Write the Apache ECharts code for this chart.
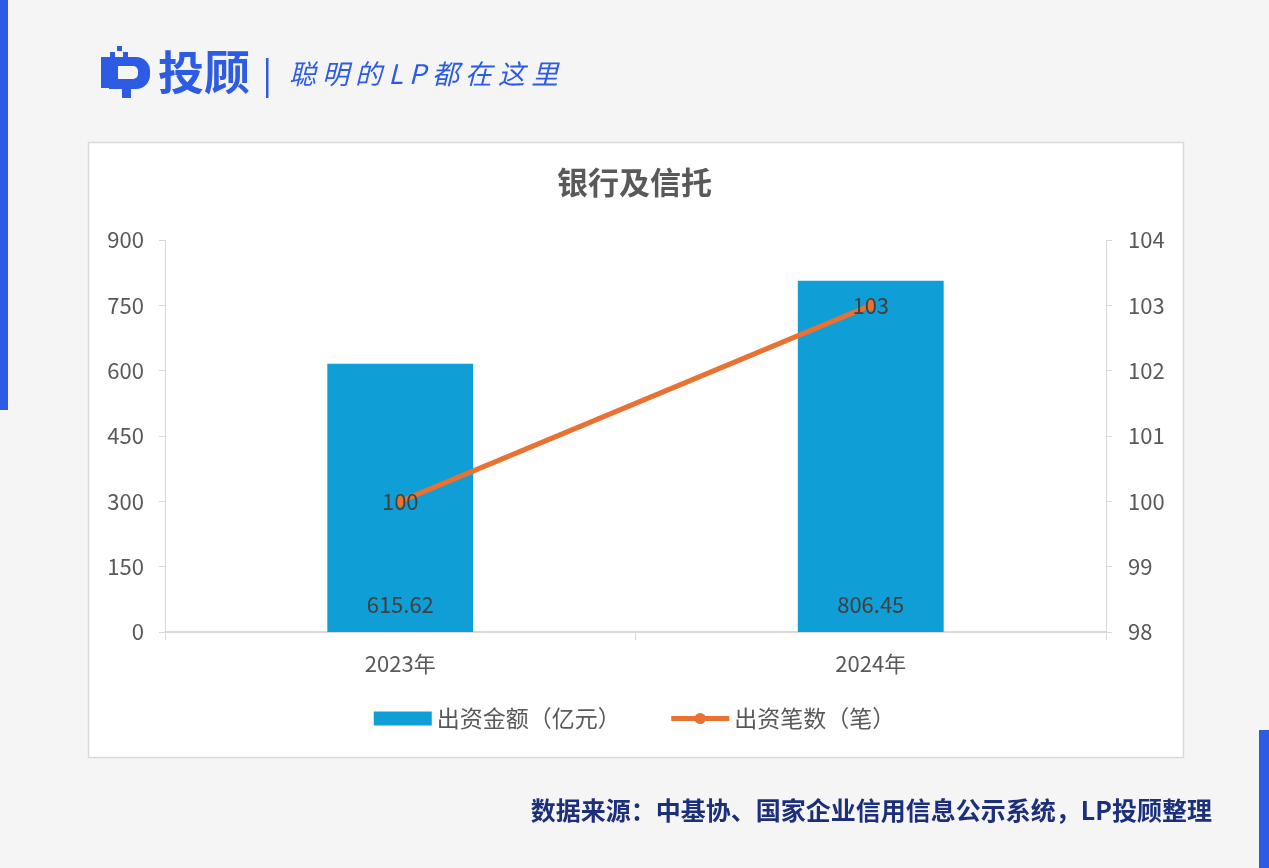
<!DOCTYPE html>
<html><head><meta charset="utf-8">
<script src="https://cdn.jsdelivr.net/npm/echarts@6/dist/echarts.min.js"></script>
<style>html,body{margin:0;padding:0;background:#f5f5f5}#c{width:1269px;height:868px}</style>
</head><body><div id="c"></div>
<script>
const categories = ['2023年', '2024年'];
const amountValues = [615.62, 806.45];
const countValues = [100, 103];
const leftTicks = {min: 0, max: 900, interval: 150};
const rightTicks = {min: 98, max: 104, interval: 1};
const titleText = '银行及信托';
const amountName = '出资金额（亿元）';
const countName = '出资笔数（笔）';
const footerText = '数据来源：中基协、国家企业信用信息公示系统，LP投顾整理';

const FONT = '"Noto Sans CJK SC", "Noto Sans", sans-serif';
const BLUE = '#2d5be3';
const chart = echarts.init(document.getElementById('c'), null, {renderer: 'canvas'});
const labelColor = '#595959';
chart.setOption({
  backgroundColor: '#f5f5f5',
  animation: false,
  graphic: [
    {type: 'rect', shape: {x: 0, y: 0, width: 8, height: 410}, style: {fill: BLUE}},
    {type: 'rect', shape: {x: 1259, y: 730, width: 10, height: 138}, style: {fill: BLUE}},
    {type: 'rect', z: -10, shape: {x: 88.5, y: 142.5, width: 1095, height: 615}, style: {fill: '#ffffff', stroke: '#d9d9d9', lineWidth: 1.5}},
    // logo icon
    {type: 'rect', shape: {x: 101, y: 57, width: 8, height: 31}, style: {fill: BLUE}},
    {type: 'rect', shape: {x: 109, y: 57, width: 41, height: 32, r: [0, 14, 14, 0]}, style: {fill: BLUE}},
    {type: 'rect', shape: {x: 118, y: 66, width: 20, height: 13, r: [0, 5, 5, 0]}, style: {fill: '#f5f5f5'}},
    {type: 'rect', shape: {x: 122, y: 89, width: 9, height: 9}, style: {fill: BLUE}},
    {type: 'rect', shape: {x: 117, y: 46, width: 5, height: 5}, style: {fill: BLUE}},
    {type: 'rect', shape: {x: 110, y: 52, width: 5, height: 5}, style: {fill: BLUE}},
    {type: 'rect', shape: {x: 123, y: 52, width: 5, height: 5}, style: {fill: BLUE}},
    {type: 'text', left: 158, top: 49, style: {text: '投顾', fill: BLUE, font: 'bold 46px "Noto Sans CJK SC", sans-serif'}},
    {type: 'rect', shape: {x: 266, y: 58, width: 2.5, height: 40}, style: {fill: BLUE}},
    {type: 'text', left: 289, top: 60, style: {text: '聪 明 的 L P 都 在 这 里', fill: BLUE, font: 'italic 27px "Noto Sans CJK SC", sans-serif'}},
    {type: 'text', right: 57, top: 798, style: {text: footerText, fill: '#1c2f7a', font: 'bold 25px "Noto Sans CJK SC", sans-serif'}}
  ],
  title: {
    text: titleText, left: 'center', top: 162,
    textStyle: {fontFamily: '"Noto Sans CJK SC", sans-serif', fontSize: 31, fontWeight: 'bold', color: '#595959'}
  },
  legend: {
    bottom: 133, left: 'center', itemGap: 48, itemWidth: 58, itemHeight: 14,
    textStyle: {fontFamily: FONT, fontSize: 23, color: labelColor},
    data: [
      {name: amountName, icon: 'rect'},
      {name: countName, lineStyle: {width: 5}}
    ]
  },
  grid: {left: 165, right: 163, top: 240, bottom: 236, containLabel: false},
  xAxis: {
    type: 'category', data: categories,
    axisLine: {lineStyle: {color: '#d9d9d9', width: 2}},
    axisTick: {show: true, length: 8, lineStyle: {color: '#d9d9d9'}},
    axisLabel: {fontFamily: FONT, fontSize: 22, color: labelColor, margin: 21}
  },
  yAxis: [
    {type: 'value', min: leftTicks.min, max: leftTicks.max, interval: leftTicks.interval,
      axisLine: {show: true, lineStyle: {color: '#d9d9d9'}},
      axisTick: {show: true, length: 6, lineStyle: {color: '#d9d9d9'}},
      splitLine: {show: false},
      axisLabel: {fontFamily: FONT, fontSize: 22, color: labelColor, margin: 21}},
    {type: 'value', min: rightTicks.min, max: rightTicks.max, interval: rightTicks.interval,
      axisLine: {show: true, lineStyle: {color: '#d9d9d9'}},
      axisTick: {show: true, length: 6, lineStyle: {color: '#d9d9d9'}},
      splitLine: {show: false},
      axisLabel: {fontFamily: FONT, fontSize: 22, color: labelColor, margin: 22}}
  ],
  series: [
    {name: amountName, type: 'bar', data: amountValues, barWidth: '31%', yAxisIndex: 0,
      itemStyle: {color: '#0f9ed5'},
      label: {show: true, position: 'insideBottom', distance: 16, fontFamily: FONT, fontSize: 22, color: '#404040'}},
    {name: countName, type: 'line', data: countValues, yAxisIndex: 1, z: 5,
      lineStyle: {color: '#e97132', width: 5}, itemStyle: {color: '#e97132'},
      symbol: 'circle', symbolSize: 11,
      label: {show: true, position: 'inside', fontFamily: FONT, fontSize: 22, color: '#404040'}}
  ]
});
</script></body></html>
